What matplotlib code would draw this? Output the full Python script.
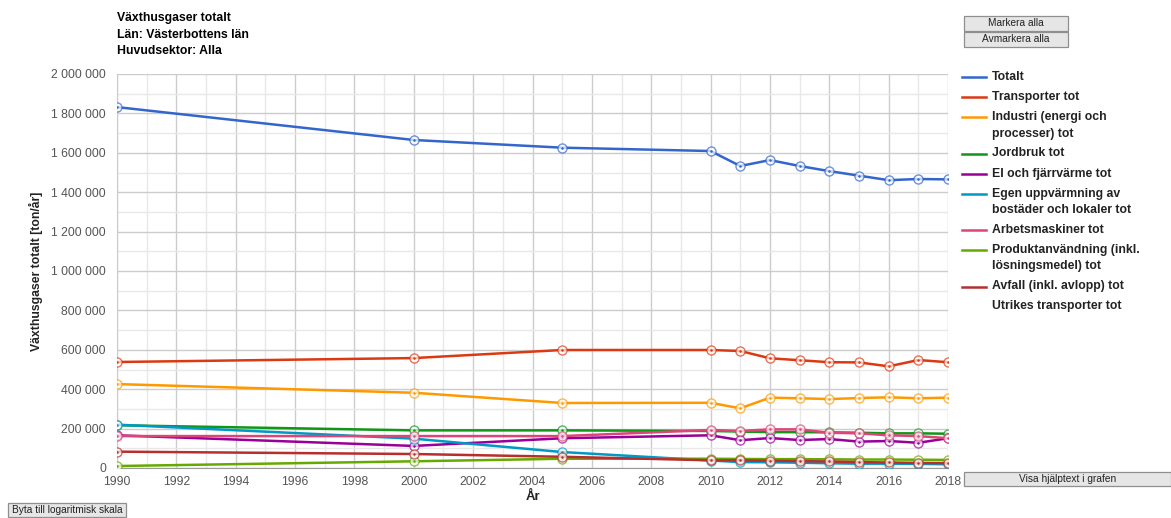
import matplotlib
matplotlib.use("Agg")
import matplotlib.pyplot as plt
from matplotlib.ticker import FuncFormatter, MultipleLocator
from matplotlib.patches import Rectangle
from matplotlib.lines import Line2D

plt.rcParams['font.family'] = ['Liberation Sans', 'DejaVu Sans']

years = [1990, 2000, 2005, 2010, 2011, 2012, 2013, 2014, 2015, 2016, 2017, 2018]

totalt = [1832000, 1665000, 1626000, 1609000, 1533000, 1563000, 1533000, 1507000, 1484000, 1461000, 1467000, 1465000]
transporter = [538000, 558000, 599000, 599000, 594000, 557000, 547000, 537000, 536000, 516000, 548000, 537000]
industri = [426000, 382000, 330000, 331000, 303000, 357000, 354000, 350000, 355000, 359000, 354000, 357000]
jordbruk = [217000, 191000, 191000, 188000, 185000, 182000, 182000, 181000, 179000, 176000, 176000, 174000]
el_fjarrvarme = [166000, 112000, 151000, 166000, 141000, 152000, 142000, 147000, 134000, 137000, 128000, 151000]
egen_uppvarmning = [220000, 149000, 81000, 38000, 30000, 29000, 27000, 24000, 22000, 22000, 21000, 19000]
arbetsmaskiner = [162000, 162000, 162000, 193000, 188000, 196000, 196000, 179000, 176000, 166000, 162000, 151000]
produktanvandning = [10000, 34000, 47000, 47000, 46000, 45000, 45000, 44000, 43000, 43000, 42000, 41000]
avfall = [83000, 71000, 57000, 39000, 39000, 37000, 35000, 33000, 30000, 28000, 26000, 25000]

series_labels = [
    "Totalt",
    "Transporter tot",
    "Industri (energi och\nprocesser) tot",
    "Jordbruk tot",
    "El och fjärrvärme tot",
    "Egen uppvärmning av\nbostäder och lokaler tot",
    "Arbetsmaskiner tot",
    "Produktanvändning (inkl.\nlösningsmedel) tot",
    "Avfall (inkl. avlopp) tot",
    "Utrikes transporter tot",
]
series_values = [totalt, transporter, industri, jordbruk, el_fjarrvarme,
                 egen_uppvarmning, arbetsmaskiner, produktanvandning, avfall, None]
series_colors = ["#3366cc", "#dc3912", "#ff9900", "#109618", "#990099",
                 "#0099c6", "#dd4477", "#66aa00", "#b82e2e", None]

title_lines = ["Växthusgaser totalt", "Län: Västerbottens län", "Huvudsektor: Alla"]
y_label = "Växthusgaser totalt [ton/år]"
x_label = "År"

W, H = 1171, 518
fig = plt.figure(figsize=(W / 100, H / 100), dpi=100)
ax = fig.add_axes([117 / W, 1 - 468 / H, (948 - 117) / W, (468 - 74) / H])

for k, (vals, col) in enumerate(zip(series_values, series_colors)):
    if vals is None:
        continue
    z = 3 + k * 0.1
    ax.plot(years, vals, color=col, lw=1.8, zorder=z, solid_capstyle='round')
    ax.plot(years, vals, linestyle='none', marker='o', ms=6.5, mfc='white',
            mec=col, mew=1.0, alpha=0.7, zorder=z + 0.03)
    ax.plot(years, vals, linestyle='none', marker='o', ms=1.8, mfc=col,
            mec=col, mew=0, zorder=z + 0.06)

ax.set_xlim(1990, 2018)
ax.set_ylim(0, 2000000)
ax.xaxis.set_major_locator(MultipleLocator(2))
ax.xaxis.set_minor_locator(MultipleLocator(1))
ax.yaxis.set_major_locator(MultipleLocator(200000))
ax.yaxis.set_minor_locator(MultipleLocator(100000))
ax.yaxis.set_major_formatter(FuncFormatter(lambda v, p: f"{int(v):,}".replace(",", " ")))
ax.grid(which='major', color='#cccccc', lw=1.0, zorder=0)
ax.grid(which='minor', color='#e8e8e8', lw=1.0, zorder=0)
ax.set_axisbelow(True)
for s in ['top', 'right']:
    ax.spines[s].set_visible(False)
ax.spines['left'].set_color('#cccccc')
ax.spines['bottom'].set_color('#999999')
ax.tick_params(which='both', length=0, labelsize=8.8, labelcolor='#555555')
ax.tick_params(axis='x', pad=6)
ax.tick_params(axis='y', pad=8)
ax.set_ylabel(y_label, fontsize=8.8, fontweight='bold', color='#222222', labelpad=6)
ax.set_xlabel(x_label, fontsize=9.5, fontweight='bold', color='#222222', labelpad=2)

def fx(px):
    return px / W

def fy(py):
    return 1 - py / H

# title
for i, t in enumerate(title_lines):
    fig.text(fx(117), fy(18 + i * 16.5), t, fontsize=8.8, fontweight='bold',
             color='#000000', va='center', ha='left')

# legend (manual)
y = 77
for lab, col in zip(series_labels, series_colors):
    lines = lab.split("\n")
    if col is not None:
        fig.add_artist(Line2D([fx(962), fx(986)], [fy(y), fy(y)], color=col, lw=1.8,
                              transform=fig.transFigure))
    for j, ln in enumerate(lines):
        fig.text(fx(992), fy(y + j * 16.5), ln, fontsize=8.8, fontweight='bold',
                 color='#222222', va='center', ha='left')
    y = y + (len(lines) - 1) * 16.5 + 20

# buttons
def button(x0, y0, x1, y1, text):
    fig.add_artist(Rectangle((fx(x0), fy(y1)), fx(x1) - fx(x0), fy(y0) - fy(y1),
                             transform=fig.transFigure, facecolor='#e6e6e6',
                             edgecolor='#8f8f8f', lw=0.9))
    fig.text((fx(x0) + fx(x1)) / 2, (fy(y0) + fy(y1)) / 2, text, fontsize=7.3,
             color='#222222', ha='center', va='center')

button(964, 16, 1068, 31, "Markera alla")
button(964, 32, 1068, 47, "Avmarkera alla")
button(964, 472, 1171, 486, "Visa hjälptext i grafen")
button(8, 503, 126, 517, "Byta till logaritmisk skala")

fig.savefig("out.png", dpi=100, facecolor='white')
